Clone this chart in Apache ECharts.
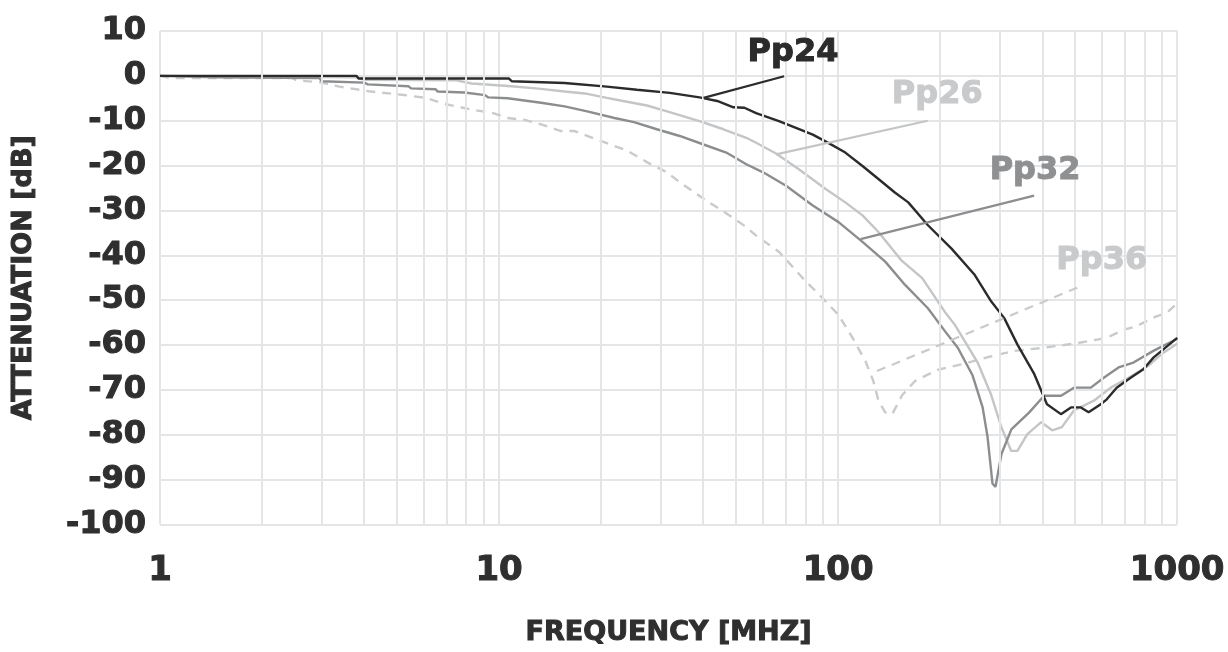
<!DOCTYPE html>
<html>
<head>
<meta charset="utf-8">
<title>Attenuation vs Frequency</title>
<script src="https://cdn.jsdelivr.net/npm/echarts@6/dist/echarts.min.js"></script>
<style>
  html, body { margin: 0; padding: 0; background: #ffffff; }
  #chart { width: 1228px; height: 652px; }
</style>
</head>
<body>
<div id="chart"></div>
<script>
// Measured attenuation curves: [frequency in MHz, attenuation in dB]
const pp24 = [
  [1, 0], [3.8, 0], [3.85, -0.6], [10.7, -0.6], [10.9, -1.2], [15.6, -1.6], [20.8, -2.4],
  [25.5, -3.1], [31.9, -3.8], [39, -4.8], [44, -5.6], [49.1, -7.0], [52.9, -7.1],
  [57.3, -8.3], [66.9, -10.1], [75.1, -11.6], [84.2, -13.1], [93.8, -15.0], [105, -17.1],
  [118, -20.1], [131.5, -23.0], [147, -26.0], [161, -28.2], [184, -33.3], [216, -38.5],
  [253, -44.4], [283, -50.3], [309, -54.0], [338, -59.9], [379, -66.5], [413, -73.2],
  [454, -75.4], [486, -73.9], [520, -73.9], [548, -75.0], [595, -73.2], [620, -72.1],
  [663, -69.5], [729, -67.3], [795, -65.4], [851, -62.8], [1000, -58.4]
];
const pp26 = [
  [1, 0], [3.8, -0.3], [4.0, -0.9], [7.5, -1.0], [8.3, -1.7], [10.9, -2.3], [13.3, -2.9],
  [15.6, -3.5], [18.2, -4.0], [20.8, -4.9], [22.8, -5.5], [27.3, -6.6], [31.3, -7.9],
  [39, -10.1], [45.9, -11.9], [53.6, -13.8], [57.3, -14.9], [65.6, -17.3], [76.6, -20.8],
  [91.9, -25.2], [105, -28.2], [118, -31.1], [131.5, -34.8], [154, -41.2], [177, -45.1],
  [206, -52.5], [221, -55.5], [258, -63.9], [283, -71.2], [303, -78.3], [324, -83.6],
  [338, -83.6], [361, -79.9], [397, -77.2], [428, -79.0], [457, -78.3], [496, -74.6],
  [568, -72.4], [637, -69.5], [719, -67.3], [823, -64.6], [910, -61.7], [1000, -59.7]
];
const pp32 = [
  [1, 0], [1.45, -0.3], [2.95, -0.5], [3.0, -1.2], [4.0, -1.5], [4.1, -1.9], [5.4, -2.3],
  [5.5, -2.8], [6.5, -3.0], [6.6, -3.5], [7.9, -3.7], [8.0, -4.1], [9.1, -4.3], [9.3, -4.8],
  [10.6, -5.0], [13.3, -6.0], [15.6, -6.8], [18.2, -7.9], [21.9, -9.4], [25, -10.3],
  [29.2, -11.9], [34.1, -13.4], [40.1, -15.3], [46.8, -17.1], [53.6, -19.7], [60.1, -21.5],
  [70.2, -24.5], [84.2, -28.9], [100.3, -32.6], [118, -37.0], [137.7, -41.4], [157.6, -46.6],
  [184, -51.8], [206.5, -56.9], [225.4, -60.6], [249.3, -66.8], [266.8, -73.9], [275.9, -80.5],
  [285.3, -90.9], [291.2, -91.6], [303.2, -84.3], [324.3, -78.8], [366.2, -75.0], [405.1, -71.3],
  [454.4, -71.3], [496, -69.5], [556.3, -69.5], [607.4, -67.3], [671.5, -65.0], [743, -63.9],
  [850.6, -61.3], [1000, -58.6]
];
const pp36 = [
  [1, 0], [1.07, -0.5], [2.46, -0.5], [2.53, -1.0], [2.95, -1.4], [3.38, -2.4], [4.19, -3.5],
  [5.16, -4.2], [6.07, -4.9], [6.86, -6.2], [8.28, -7.5], [9.6, -8.3], [10.6, -9.4],
  [11.9, -9.8], [13.3, -10.8], [15.2, -12.3], [16.7, -12.3], [18.2, -13.4], [20.8, -15.0],
  [23.9, -16.7], [27.7, -19.5], [31.3, -21.5], [34.1, -23.7], [40.1, -27.4], [47.8, -31.1],
  [53.6, -33.7], [57.3, -35.6], [66.9, -39.2], [78.7, -45.1], [90.1, -49.6], [100.3, -53.3],
  [110.3, -58.4], [120.4, -63.6], [127, -68.0], [131.5, -72.4], [137.7, -75.0], [144.4, -75.4],
  [154.4, -71.2], [168.6, -68.0], [197, -65.5], [231.5, -64.3], [279.6, -62.6], [331, -61.3],
  [405, -60.6], [506, -59.6], [619.5, -58.4], [695, -56.6], [758.6, -55.8], [868, -53.6],
  [928.7, -52.9], [1000, -50.7]
];

// Axis ticks
const xTicks = [1, 10, 100, 1000];
const xMinorGrid = [2, 3, 4, 5, 6, 7, 8, 9, 20, 30, 40, 50, 60, 70, 80, 90,
                    200, 300, 400, 500, 600, 700, 800, 900];
const yTicks = [10, 0, -10, -20, -30, -40, -50, -60, -70, -80, -90, -100];

// Callouts: label anchor and leader line (from curve point to label), in data units
const callouts = {
  Pp24: { label: [73.6, 5.2], from: [40.1, -4.9], to: [69.3, -0.1] },
  Pp26: { label: [196, -4.2], from: [65.6, -17.5], to: [183.7, -10.0] },
  Pp32: { label: [381, -21.2], from: [116.4, -36.4], to: [378.6, -26.7] },
  Pp36: { label: [599, -41.2], from: [130.2, -65.8], to: [530.5, -46.6] }
};

const FONT = '"DejaVu Sans", "Liberation Sans", sans-serif';
const GRID_COLOR = '#e4e5e7';
const TEXT_COLOR = '#2f2f2f';

// heavy text: bold face plus a thin outline in the same colour
function heavy(size, color, extra) {
  return Object.assign({
    fontFamily: FONT,
    fontWeight: 'bold',
    fontSize: size,
    color: color,
    textBorderColor: color,
    textBorderWidth: 1
  }, extra || {});
}

function curve(name, data, color, textColor, dashed) {
  const c = callouts[name];
  const lineType = dashed ? [9, 7] : 'solid';
  return {
    name: name,
    type: 'line',
    data: data,
    showSymbol: false,
    symbol: 'none',
    z: 3,
    lineStyle: { color: color, width: 2.4, type: lineType },
    markLine: {
      silent: true,
      symbol: ['none', 'none'],
      label: { show: false },
      lineStyle: { color: color, width: 2.2, type: lineType },
      data: [[{ coord: c.from }, { coord: c.to }]]
    },
    markPoint: {
      silent: true,
      symbol: 'rect',
      symbolSize: 1,
      itemStyle: { color: 'rgba(0,0,0,0)' },
      label: heavy(32, textColor, { show: true, position: 'inside', formatter: '{b}' }),
      data: [{ name: name, coord: c.label }]
    }
  };
}

const chart = echarts.init(document.getElementById('chart'), null, { renderer: 'canvas' });

chart.setOption({
  animation: false,
  backgroundColor: '#ffffff',
  grid: { left: 160, right: 44, top: 31, bottom: 124, containLabel: false },
  xAxis: {
    type: 'log',
    logBase: 10,
    min: xTicks[0],
    max: xTicks[xTicks.length - 1],
    name: 'FREQUENCY [MHZ]',
    nameLocation: 'middle',
    nameGap: 95,
    nameTextStyle: heavy(27, TEXT_COLOR),
    axisLine: { show: false },
    axisTick: { show: false },
    axisLabel: Object.assign(heavy(34, TEXT_COLOR), {
      margin: 30,
      formatter: v => (xTicks.indexOf(Math.round(v)) >= 0 ? String(Math.round(v)) : '')
    }),
    splitLine: { show: true, lineStyle: { color: GRID_COLOR, width: 2 } }
  },
  yAxis: {
    type: 'value',
    min: yTicks[yTicks.length - 1],
    max: yTicks[0],
    interval: 10,
    name: 'ATTENUATION [dB]',
    nameLocation: 'middle',
    nameRotate: 90,
    nameGap: 123,
    nameTextStyle: heavy(27, TEXT_COLOR),
    axisLine: { show: false },
    axisTick: { show: false },
    axisLabel: Object.assign(heavy(32, TEXT_COLOR), { margin: 14 }),
    splitLine: { show: true, lineStyle: { color: GRID_COLOR, width: 2 } }
  },
  series: [
    {
      // minor vertical grid lines at 2..9 of each decade
      name: 'minor-grid',
      type: 'line',
      data: [],
      z: 1,
      silent: true,
      markLine: {
        silent: true,
        symbol: ['none', 'none'],
        label: { show: false },
        lineStyle: { color: GRID_COLOR, width: 2, type: 'solid' },
        data: xMinorGrid.map(v => ({ xAxis: v }))
      }
    },
    curve('Pp36', pp36, '#c9cacb', '#c9cacb', true),
    curve('Pp26', pp26, '#c4c5c6', '#c9cacb', false),
    curve('Pp32', pp32, '#8c8d8f', '#8f9092', false),
    curve('Pp24', pp24, '#2b2b2b', '#2b2b2b', false)
  ]
});
</script>
</body>
</html>
